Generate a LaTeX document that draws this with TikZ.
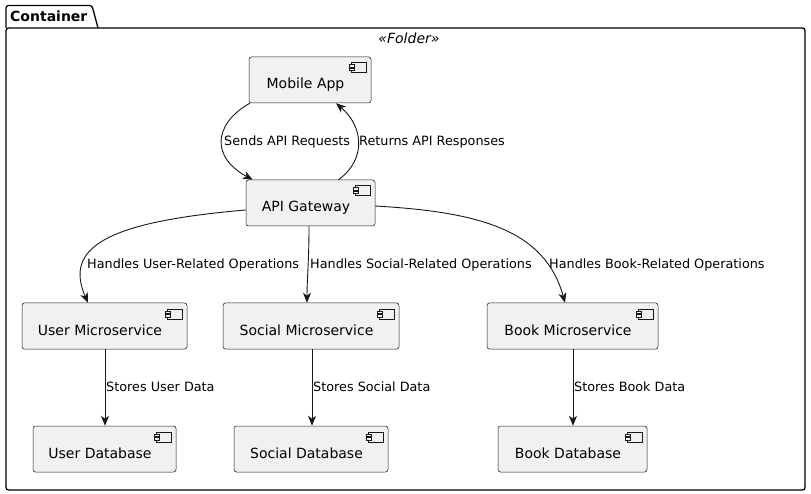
\documentclass[tikz,border=0pt]{standalone}
\usepackage{fontspec}
\setmainfont{DejaVu Sans}
\usetikzlibrary{arrows.meta,calc}
\definecolor{bd}{HTML}{181818}
\definecolor{fl}{HTML}{F1F1F1}
\tikzset{
  comp/.style={draw=bd, fill=fl, line width=0.5pt, rounded corners=2.5pt,
    minimum height=46pt, font=\fontsize{14pt}{16pt}\selectfont,
    text height=18pt, text depth=0pt, inner sep=0pt},
  lnk/.style={draw=bd, line width=0.9pt, -{Stealth[length=10pt,width=8pt,inset=3pt]}},
  elab/.style={font=\fontsize{12.8pt}{15pt}\selectfont, inner sep=0pt, anchor=west, text=black},
}
\newcommand{\compicon}[1]{%
  \draw[draw=bd, fill=fl, line width=0.5pt] ($(#1.north east)+(-20,6)$) rectangle ($(#1.north east)+(-5,16)$);
  \draw[draw=bd, fill=fl, line width=0.5pt] ($(#1.north east)+(-22,8)$) rectangle ($(#1.north east)+(-17,10.5)$);
  \draw[draw=bd, fill=fl, line width=0.5pt] ($(#1.north east)+(-22,11.5)$) rectangle ($(#1.north east)+(-17,14)$);
}
\newcommand{\rpad}{\kern9pt\relax}
\begin{document}
\begin{tikzpicture}[x=1pt,y=-1pt]
\useasboundingbox (0,0) rectangle (811,494);
% folder
\draw[draw=black, line width=1.3pt, rounded corners=2.5pt]
  (6,28) -- (6,5.5) -- (92,5.5) -- (98,28);
\draw[draw=black, line width=1.3pt, rounded corners=2.5pt]
  (6,28) -- (6,490) -- (805,490) -- (805,28) -- cycle;
\node[font=\fontsize{14pt}{16pt}\selectfont\bfseries, anchor=west, inner sep=0pt] (ttl) at (10,16.5) {Container};
\node[font=\fontsize{14pt}{16pt}\selectfont\itshape, inner sep=0pt] (ster) at (409,38) {«Folder»};
% components
\node[comp, minimum width=122pt] (mob) at (310,80) {Mobile App\rpad};
\node[comp, minimum width=129pt] (gw) at (310.5,203) {API Gateway\rpad};
\node[comp, minimum width=165pt] (ums) at (104.5,326) {User Microservice\rpad};
\node[comp, minimum width=176pt] (sms) at (311,326) {Social Microservice\rpad};
\node[comp, minimum width=171pt] (bms) at (572.5,326) {Book Microservice\rpad};
\node[comp, minimum width=143pt] (udb) at (104.5,449) {User Database\rpad};
\node[comp, minimum width=154pt] (sdb) at (311,449) {Social Database\rpad};
\node[comp, minimum width=149pt] (bdb) at (572.5,449) {Book Database\rpad};
\foreach \n in {mob,gw,ums,sms,bms,udb,sdb,bdb} {\compicon{\n}}
% connectors
\draw[lnk] ($(mob.south west)+(1,0)$) .. controls (212,125) and (212,158) .. ($(gw.north west)+(7,0)$);
\draw[lnk] ($(gw.north)+(28,0)$) .. controls (368,158) and (362,125) .. ($(mob.south)+(26,0)$);
\draw[lnk] ($(gw.west)+(0,7)$) .. controls (105,222) and (64,248) .. ($(ums.north)+(-16.5,0)$);
\draw[lnk] ($(gw.south)+(-1.5,0)$) .. controls (309,260) and (307,280) .. ($(sms.north)+(-4,0)$);
\draw[lnk] ($(gw.east)+(0,3)$) .. controls (480,212) and (545,230) .. ($(bms.north)+(-7.5,0)$);
\draw[lnk] ($(ums.south)+(0.5,0)$) -- ($(udb.north)+(0.5,0)$);
\draw[lnk] ($(sms.south)+(1,0)$) -- ($(sdb.north)+(1,0)$);
\draw[lnk] ($(bms.south)+(0.5,0)$) -- ($(bdb.north)+(0.5,0)$);
% labels
\node[elab] (l1) at (224,142) {Sends API Requests};
\node[elab] (l2) at (359,142) {Returns API Responses};
\node[elab] (l3) at (87,265) {Handles User-Related Operations};
\node[elab] (l4) at (310,265) {Handles Social-Related Operations};
\node[elab] (l5) at (549,265) {Handles Book-Related Operations};
\node[elab] (l6) at (106,387) {Stores User Data};
\node[elab] (l7) at (313,387) {Stores Social Data};
\node[elab] (l8) at (574,387) {Stores Book Data};
\end{tikzpicture}
\end{document}
